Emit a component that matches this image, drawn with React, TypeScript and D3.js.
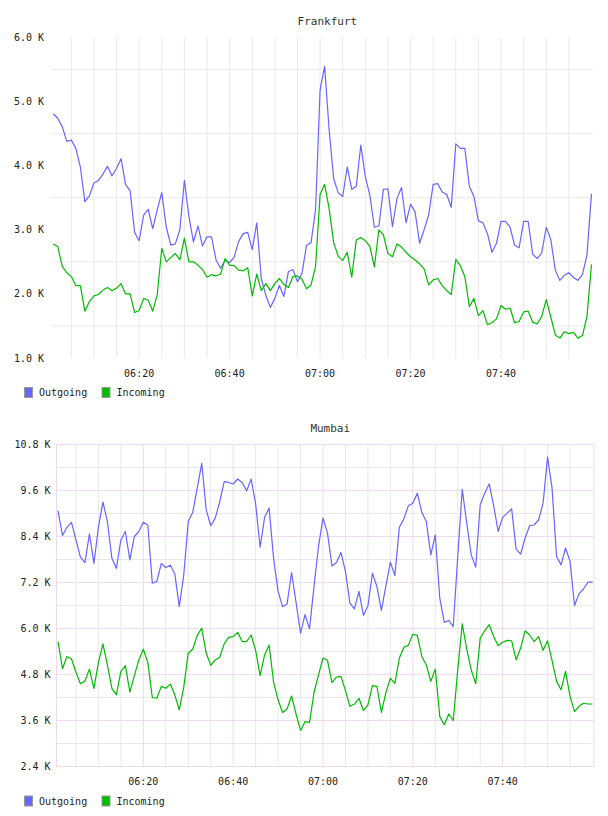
import React from "react";
import * as d3 from "d3";

// One sample per minute, first sample at 06:01
const startHour = 6;
const startMinute = 1;

const frankfurtOutgoing = [
  4.81, 4.74, 4.61, 4.38, 4.4, 4.27, 3.98, 3.44, 3.53, 3.73,
  3.77, 3.87, 3.99, 3.84, 3.96, 4.11, 3.71, 3.61, 2.96, 2.83,
  3.23, 3.32, 3.02, 3.31, 3.58, 3.04, 2.76, 2.78, 3.0, 3.77,
  3.21, 2.81, 3.06, 2.75, 2.89, 2.89, 2.53, 2.4, 2.52, 2.49,
  2.57, 2.82, 2.94, 2.96, 2.69, 3.11, 2.24, 1.98, 1.79, 1.93,
  2.13, 1.96, 2.35, 2.38, 2.19, 2.32, 2.76, 2.8, 3.31, 5.18,
  5.55, 4.56, 3.8, 3.58, 3.52, 3.98, 3.63, 3.68, 4.32, 3.83,
  3.54, 3.04, 3.06, 3.63, 3.64, 3.05, 3.49, 3.66, 3.11, 3.4,
  3.28, 2.79, 3.0, 3.23, 3.71, 3.72, 3.59, 3.55, 3.35, 4.34,
  4.27, 4.27, 3.68, 3.52, 3.14, 3.11, 2.94, 2.65, 2.79, 3.13,
  3.13, 3.04, 2.76, 2.72, 3.13, 3.13, 2.62, 2.55, 2.64, 3.04,
  2.85, 2.37, 2.21, 2.29, 2.33, 2.26, 2.21, 2.3, 2.61, 3.56,
];

const frankfurtIncoming = [
  2.78, 2.74, 2.43, 2.33, 2.27, 2.13, 2.13, 1.73, 1.88, 1.97,
  1.99, 2.06, 2.1, 2.05, 2.09, 2.16, 2.0, 2.0, 1.71, 1.74,
  1.93, 1.9, 1.73, 1.99, 2.71, 2.5, 2.57, 2.63, 2.53, 2.87,
  2.5, 2.5, 2.45, 2.38, 2.26, 2.3, 2.28, 2.31, 2.55, 2.45,
  2.44, 2.37, 2.36, 2.41, 1.97, 2.31, 2.05, 2.16, 2.05, 2.16,
  2.24, 2.15, 2.1, 2.27, 2.28, 2.23, 2.08, 2.14, 2.43, 3.55,
  3.71, 3.33, 2.8, 2.59, 2.52, 2.65, 2.26, 2.84, 2.88, 2.83,
  2.74, 2.42, 3.0, 2.92, 2.63, 2.58, 2.78, 2.73, 2.65, 2.58,
  2.53, 2.47, 2.39, 2.14, 2.22, 2.24, 2.13, 2.05, 1.99, 2.54,
  2.44, 2.27, 1.8, 1.93, 1.66, 1.74, 1.52, 1.55, 1.61, 1.82,
  1.76, 1.78, 1.55, 1.57, 1.72, 1.73, 1.56, 1.53, 1.65, 1.91,
  1.64, 1.36, 1.31, 1.41, 1.38, 1.4, 1.31, 1.35, 1.65, 2.46,
];

const mumbaiOutgoing = [
  9.07, 8.43, 8.64, 8.77, 8.31, 7.86, 7.72, 8.47, 7.7, 8.64,
  9.3, 8.79, 7.83, 7.57, 8.31, 8.53, 7.79, 8.4, 8.53, 8.77,
  8.7, 7.18, 7.23, 7.7, 7.59, 7.65, 7.43, 6.57, 7.4, 8.79,
  9.03, 9.66, 10.31, 9.1, 8.68, 8.88, 9.3, 9.83, 9.81, 9.77,
  9.9, 9.81, 9.59, 9.9, 9.25, 8.12, 8.9, 9.14, 7.83, 6.97,
  6.57, 6.64, 7.46, 6.68, 5.88, 6.36, 5.99, 7.1, 8.14, 8.88,
  8.49, 7.63, 7.72, 7.98, 7.49, 6.66, 6.51, 6.97, 6.34, 6.59,
  7.44, 7.1, 6.47, 7.11, 7.73, 7.38, 8.64, 8.86, 9.2, 9.27,
  9.53, 9.03, 8.79, 7.92, 8.44, 6.79, 6.16, 6.21, 6.05, 7.88,
  9.63, 8.75, 7.92, 7.6, 9.23, 9.53, 9.77, 9.2, 8.53, 8.9,
  9.01, 9.12, 8.07, 7.94, 8.36, 8.68, 8.7, 8.83, 9.27, 10.47,
  9.66, 7.88, 7.66, 8.1, 7.75, 6.6, 6.91, 7.03, 7.21, 7.21,
];

const mumbaiIncoming = [
  5.66, 4.95, 5.27, 5.21, 4.86, 4.56, 4.63, 4.94, 4.44, 5.11,
  5.6, 5.05, 4.44, 4.27, 4.88, 5.03, 4.34, 4.77, 5.18, 5.46,
  5.11, 4.2, 4.18, 4.49, 4.44, 4.55, 4.27, 3.88, 4.47, 5.36,
  5.46, 5.82, 6.01, 5.36, 5.04, 5.18, 5.25, 5.6, 5.77, 5.79,
  5.9, 5.66, 5.66, 5.83, 5.43, 4.77, 5.31, 5.57, 4.6, 4.14,
  3.81, 3.9, 4.24, 3.77, 3.34, 3.57, 3.55, 4.33, 4.79, 5.23,
  5.17, 4.59, 4.73, 4.75, 4.38, 3.97, 4.03, 4.18, 3.86, 4.01,
  4.51, 4.49, 3.81, 4.33, 4.7, 4.57, 5.23, 5.51, 5.56, 5.85,
  5.82, 5.27, 5.05, 4.62, 4.94, 3.7, 3.49, 3.77, 3.6, 4.92,
  6.12, 5.46, 4.92, 4.56, 5.75, 5.94, 6.1, 5.79, 5.55, 5.64,
  5.69, 5.68, 5.18, 5.49, 5.94, 5.83, 5.66, 5.79, 5.43, 5.68,
  5.16, 4.62, 4.4, 4.88, 4.23, 3.83, 3.97, 4.05, 4.03, 4.03,
];

// Axis values (thousands)
const frankfurtTicks = [6.0, 5.0, 4.0, 3.0, 2.0, 1.0];
const frankfurtGridValues = [5.5, 4.5, 3.5, 2.5, 1.5];
const mumbaiTicks = [10.8, 9.6, 8.4, 7.2, 6.0, 4.8, 3.6, 2.4];
const mumbaiMinorValues = [10.2, 9.0, 7.8, 6.6, 5.4, 4.2, 3.0];

const seriesNames = ["Outgoing", "Incoming"];
const seriesColors = ["#6666ff", "#00bb00"];

const FONT = "'DejaVu Sans Mono', monospace";
const day = (h: number, m: number, s = 0) => new Date(2000, 0, 1, h, m, s);
const timeDomain: [Date, Date] = [day(6, 0, 40), day(8, 0, 20)];

type PanelProps = {
  title: string;
  outgoing: number[];
  incoming: number[];
  yDomain: [number, number];
  ticks: number[];
  minorValues: number[];
  top: number;
  bottom: number;
  left: number;
  right: number;
  labelRight: number;
  framed: boolean;
};

function Panel(p: PanelProps) {
  const x = d3.scaleTime().domain(timeDomain).range([p.left, p.right]);
  const y = d3.scaleLinear().domain(p.yDomain).range([p.bottom, p.top]);
  const times = p.outgoing.map((_, i) => day(startHour, startMinute + i));
  const gridTimes = d3.timeMinute
    .every(5)!
    .range(timeDomain[0], timeDomain[1])
    .filter((t) => t < day(8, 0));
  const isMajor = (t: Date) => t.getMinutes() % 20 === 0;
  const labelTimes = gridTimes.filter(isMajor);
  const fmt = d3.timeFormat("%H:%M");
  const fmtK = (v: number) => `${v.toFixed(1)} K`;

  const line = d3
    .line<number>()
    .x((_, i) => x(times[i]))
    .y((v) => y(v));

  const minorColor = "#e9e9e9";
  const majorColor = p.framed ? "#eed9ee" : "#e9e9e9";
  const legendY = p.bottom + 29;

  return (
    <g>
      <text
        x={(p.left + p.right) / 2 + 5}
        y={p.top - 12.5}
        textAnchor="middle"
        fontFamily={FONT}
        fontSize={11}
        fill="#333"
      >
        {p.title}
      </text>

      {/* horizontal grid */}
      {p.minorValues.map((v) => (
        <line
          key={`h${v}`}
          x1={p.left}
          x2={p.right}
          y1={y(v)}
          y2={y(v)}
          stroke={minorColor}
          strokeWidth={1}
        />
      ))}
      {p.framed &&
        p.ticks.map((v) => (
          <line
            key={`hm${v}`}
            x1={p.left}
            x2={p.right}
            y1={y(v)}
            y2={y(v)}
            stroke={majorColor}
            strokeWidth={1}
          />
        ))}

      {/* vertical grid */}
      {gridTimes.map((t) => (
        <line
          key={`v${t.getTime()}`}
          x1={x(t)}
          x2={x(t)}
          y1={p.top}
          y2={p.bottom}
          stroke={p.framed && isMajor(t) ? majorColor : minorColor}
          strokeWidth={1}
        />
      ))}

      {p.framed && (
        <rect
          x={p.left}
          y={p.top}
          width={p.right - p.left}
          height={p.bottom - p.top}
          fill="none"
          stroke={majorColor}
          strokeWidth={1}
        />
      )}

      {/* y labels */}
      {p.ticks.map((v) => (
        <text
          key={`yl${v}`}
          x={p.labelRight}
          y={y(v) + 3.5}
          textAnchor="end"
          fontFamily={FONT}
          fontSize={10}
          fill="#222"
        >
          {fmtK(v)}
        </text>
      ))}

      {/* x labels */}
      {labelTimes.map((t) => (
        <text
          key={`xl${t.getTime()}`}
          x={x(t)}
          y={p.bottom + 18.5}
          textAnchor="middle"
          fontFamily={FONT}
          fontSize={10}
          fill="#222"
        >
          {fmt(t)}
        </text>
      ))}

      {/* series */}
      <path d={line(p.outgoing) || ""} fill="none" stroke={seriesColors[0]} strokeWidth={1.2} strokeLinejoin="round" />
      <path d={line(p.incoming) || ""} fill="none" stroke={seriesColors[1]} strokeWidth={1.2} strokeLinejoin="round" />

      {/* legend */}
      {seriesNames.map((name, i) => (
        <g key={name} transform={`translate(${24.5 + i * 77.5},${legendY})`}>
          <rect x={0} y={0.5} width={8} height={10} fill={seriesColors[i]} stroke="#999" strokeWidth={1} />
          <text x={14.5} y={9} fontFamily={FONT} fontSize={10} fill="#222">
            {name}
          </text>
        </g>
      ))}
    </g>
  );
}

export default function App() {
  return (
    <svg
      width={608}
      height={816}
      style={{ position: "absolute", left: 0, top: 0, background: "#fff" }}
    >
      <rect width={608} height={816} fill="#fff" />
      <Panel
        title="Frankfurt"
        outgoing={frankfurtOutgoing}
        incoming={frankfurtIncoming}
        yDomain={[1.0, 6.0]}
        ticks={frankfurtTicks}
        minorValues={frankfurtGridValues}
        top={37.5}
        bottom={358}
        left={51.7}
        right={593}
        labelRight={44}
        framed={false}
      />
      <Panel
        title="Mumbai"
        outgoing={mumbaiOutgoing}
        incoming={mumbaiIncoming}
        yDomain={[2.4, 10.8]}
        ticks={mumbaiTicks}
        minorValues={mumbaiMinorValues}
        top={444.5}
        bottom={766.5}
        left={56.5}
        right={594}
        labelRight={50.5}
        framed={true}
      />
    </svg>
  );
}
